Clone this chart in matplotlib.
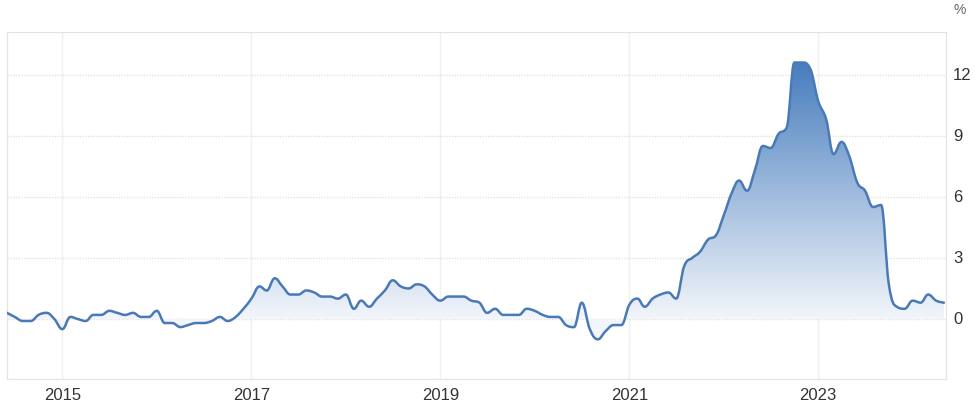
import numpy as np
import pandas as pd
import matplotlib
matplotlib.use("Agg")
import matplotlib.pyplot as plt
import matplotlib.dates as mdates
from matplotlib.path import Path
from matplotlib.patches import PathPatch
from matplotlib.transforms import ScaledTranslation

plt.rcParams['font.family'] = ['Liberation Sans', 'DejaVu Sans']

# monthly annual inflation rate, Jun 2014 - May 2024
months = pd.date_range("2014-06-01", periods=120, freq="MS")
rate = [
    0.3, 0.1, -0.1, -0.1, 0.2, 0.3, 0.0,
    -0.5, 0.1, 0.0, -0.1, 0.2, 0.2, 0.4, 0.3, 0.2, 0.3, 0.1, 0.1,
    0.4, -0.2, -0.2, -0.4, -0.3, -0.2, -0.2, -0.1, 0.1, -0.1, 0.1, 0.5,
    1.0, 1.6, 1.4, 2.0, 1.6, 1.2, 1.2, 1.4, 1.3, 1.1, 1.1, 1.0,
    1.2, 0.5, 0.9, 0.6, 1.0, 1.4, 1.9, 1.6, 1.5, 1.7, 1.6, 1.2,
    0.9, 1.1, 1.1, 1.1, 0.9, 0.8, 0.3, 0.5, 0.2, 0.2, 0.2, 0.5,
    0.4, 0.2, 0.1, 0.1, -0.3, -0.4, 0.8, -0.5, -1.0, -0.6, -0.3, -0.3,
    0.7, 1.0, 0.6, 1.0, 1.2, 1.3, 1.0, 2.6, 3.0, 3.3, 3.9, 4.1,
    5.1, 6.2, 6.8, 6.3, 7.3, 8.5, 8.4, 9.1, 9.4, 12.6, 12.6, 12.3,
    10.7, 9.8, 8.1, 8.7, 8.0, 6.7, 6.3, 5.5, 5.6, 1.7, 0.6, 0.5,
    0.9, 0.8, 1.2, 0.9, 0.8,
]
year_ticks = [2015, 2017, 2019, 2021, 2023]
y_ticks = [0, 3, 6, 9, 12]

LINE = "#4a7ab6"
TOP = np.array([72, 125, 190]) / 255
PALE = np.array([243, 246, 251]) / 255


def spline_path(xs, ys, smoothing=1.5):
    # highcharts-style spline: cubic bezier segments through each point
    n = len(xs)
    lc = [(xs[0], ys[0])] * n
    rc = [(xs[0], ys[0])] * n
    for i in range(n):
        x, y = xs[i], ys[i]
        if i == 0 or i == n - 1:
            lc[i] = rc[i] = (x, y)
            continue
        lx, ly = xs[i - 1], ys[i - 1]
        nx, ny = xs[i + 1], ys[i + 1]
        d = smoothing + 1
        lcx, lcy = (smoothing * x + lx) / d, (smoothing * y + ly) / d
        rcx, rcy = (smoothing * x + nx) / d, (smoothing * y + ny) / d
        if rcx != lcx:
            corr = (rcy - lcy) * (rcx - x) / (rcx - lcx) + y - rcy
            lcy += corr
            rcy += corr
        if lcy > ly and lcy > y:
            lcy = max(ly, y)
            rcy = 2 * y - lcy
        elif lcy < ly and lcy < y:
            lcy = min(ly, y)
            rcy = 2 * y - lcy
        if rcy > ny and rcy > y:
            rcy = max(ny, y)
            lcy = 2 * y - rcy
        elif rcy < ny and rcy < y:
            rcy = min(ny, y)
            lcy = 2 * y - rcy
        lc[i] = (lcx, lcy)
        rc[i] = (rcx, rcy)
    verts = [(xs[0], ys[0])]
    codes = [Path.MOVETO]
    for i in range(1, n):
        verts += [rc[i - 1], lc[i], (xs[i], ys[i])]
        codes += [Path.CURVE4] * 3
    return verts, codes


x = mdates.date2num(months)
y = np.array(rate)
verts, codes = spline_path(list(x), list(y))

fig = plt.figure(figsize=(9.75, 4.06), dpi=100)
ax = fig.add_axes([7 / 975, 26 / 406, 939 / 975, 347 / 406])

ymin, ymax = -2.95, 14.1
xmin = x[0]
xmax = mdates.date2num(pd.Timestamp("2024-05-09"))

# gradient area between line and zero
area_verts = verts + [(x[-1], 0), (x[0], 0), (x[0], 0)]
area_codes = codes + [Path.LINETO, Path.LINETO, Path.CLOSEPOLY]
area = PathPatch(Path(area_verts, area_codes), facecolor="none",
                 edgecolor="none", transform=ax.transData)
ax.add_patch(area)

levels = np.linspace(ymin, ymax, 400)
t = np.clip(levels / y.max(), 0, 1)[:, None]
grad = PALE * (1 - t) + TOP * t
img = ax.imshow(grad[:, None, :], extent=[xmin, xmax, ymin, ymax],
                origin="lower", aspect="auto", interpolation="bilinear", zorder=1)
img.set_clip_path(area)

ax.add_patch(PathPatch(Path(verts, codes), facecolor="none", edgecolor=LINE,
                       lw=1.8, capstyle="round", joinstyle="round", zorder=3))

ax.set_xlim(xmin, xmax)
ax.set_ylim(ymin, ymax)

ax.set_xticks([mdates.date2num(pd.Timestamp(f"{yr}-01-01")) for yr in year_ticks])
ax.set_xticklabels([str(yr) for yr in year_ticks])
ax.set_yticks(y_ticks)
ax.yaxis.tick_right()
ax.tick_params(axis="both", length=0, labelsize=12, labelcolor="#333333")
ax.tick_params(axis="x", pad=6)
ax.tick_params(axis="y", pad=5)
for lab in ax.get_yticklabels():
    lab.set_transform(lab.get_transform() + ScaledTranslation(0, 2 / 100, fig.dpi_scale_trans))

ax.grid(axis="y", color="#e2e2e2", lw=1, linestyle=(0, (1, 1)), zorder=0)
ax.grid(axis="x", color="#f0f0f0", lw=1, linestyle="-", zorder=0)
ax.set_axisbelow(True)

for side in ["left", "right", "bottom"]:
    ax.spines[side].set_color("#e6e6e6")
    ax.spines[side].set_linewidth(1)
ax.spines["top"].set_color("#e2e2e2")
ax.spines["top"].set_linestyle((0, (1, 1)))

fig.text(960 / 975, 1 - 10 / 406, "%", ha="center", va="center",
         fontsize=10, color="#666666")

fig.savefig("out.png", dpi=100)
